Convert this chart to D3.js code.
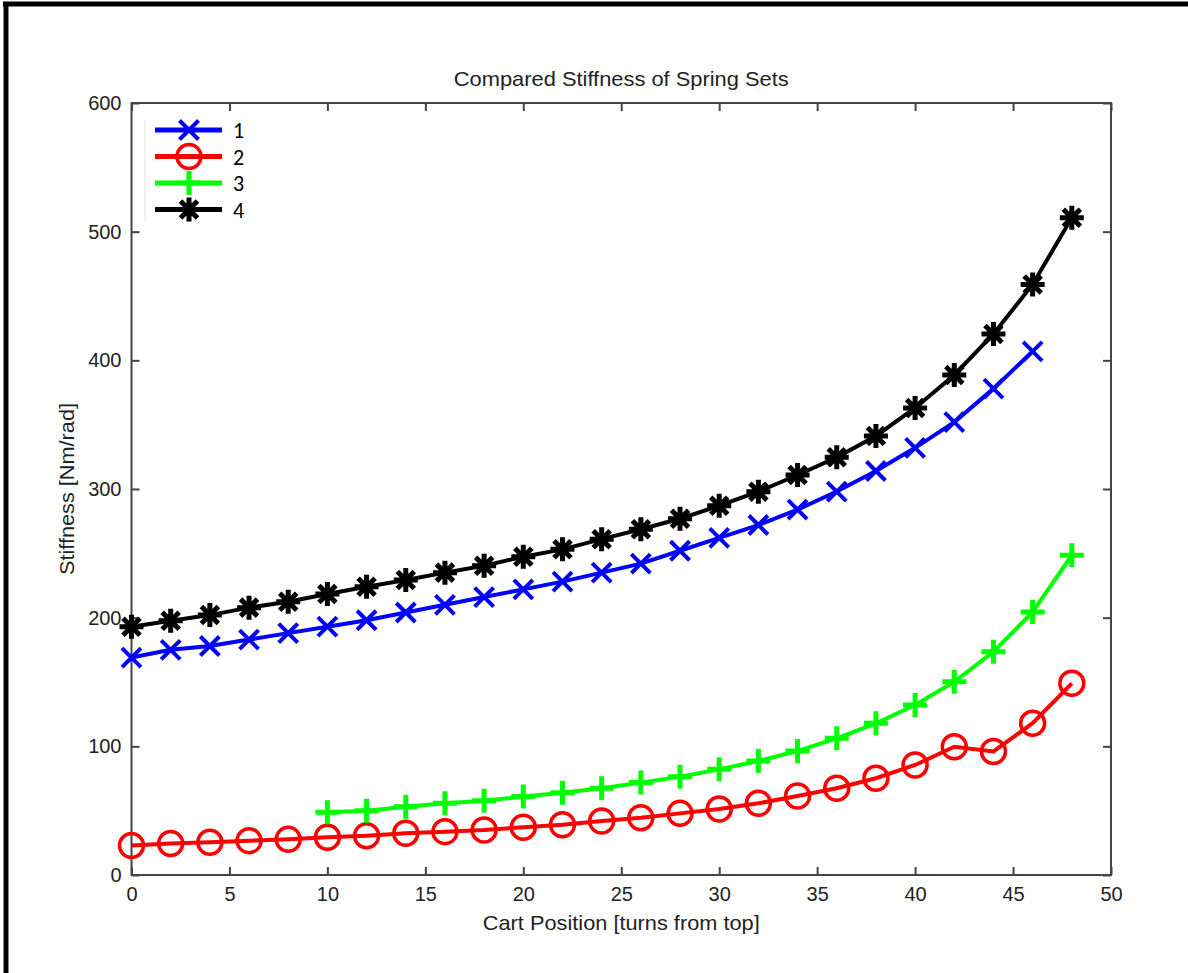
<!DOCTYPE html>
<html>
<head>
<meta charset="utf-8">
<script src="https://cdn.jsdelivr.net/npm/d3@7"></script>
<style>
  body { margin: 0; background: #fff; }
  svg text { font-family: "Liberation Sans", Arial, sans-serif; fill: #222; }
  .leg text { font-family: Carlito, Calibri, "Open Sans", sans-serif; fill: #000; }
</style>
</head>
<body>
<div id="chart"></div>
<script>
// spring set stiffness vs cart position
var xs1 = [0,2,4,6,8,10,12,14,16,18,20,22,24,26,28,30,32,34,36,38,40,42,44,46];
var set1 = [169,175,178,183,188,193,198,204,210,216,222,228,235,242,252,262,272,284,298,314,332,352,378,407];

var xs2 = [0,2,4,6,8,10,12,14,16,18,20,22,24,26,28,30,32,34,36,38,40,42,44,46,48];
var set2 = [23,24.5,25.5,26.7,27.7,29.3,30.5,32.4,33.7,35,37.1,39,42,44.5,47.9,51.3,55.7,61.4,67.4,75.2,85.5,99.7,96,118,149];

var xs3 = [10,12,14,16,18,20,22,24,26,28,30,32,34,36,38,40,42,44,46,48];
var set3 = [48.7,50,53,55.7,57.7,61,64,67.4,71.8,76.4,82.1,88.6,96.4,106.2,117.9,132.1,150.2,173.5,204.5,248.5];

var xs4 = [0,2,4,6,8,10,12,14,16,18,20,22,24,26,28,30,32,34,36,38,40,42,44,46,48];
var set4 = [193,197.6,202,207.8,212.4,218.4,224,229.3,235,240.4,247.4,253.1,261,268.7,276.9,287,297.9,310.9,324.6,341.2,363,388.6,420.5,459,510.8];

var seriesNames = ["1", "2", "3", "4"];
var seriesColors = ["#0000ff", "#ff0000", "#00ff00", "#000000"];
var seriesMarkers = ["x", "o", "+", "*"];
var xTicks = [0,5,10,15,20,25,30,35,40,45,50];
var yTicks = [0,100,200,300,400,500,600];

var W = 1188, H = 973;
var padL = 131.5, padR = 1111, padT = 103, padB = 875;

var svg = d3.select("#chart").append("svg")
    .attr("width", W)
    .attr("height", H);

// outer frame of the picture
svg.append("line").attr("x1", 3).attr("x2", W).attr("y1", 4).attr("y2", 4)
    .attr("stroke", "#000").attr("stroke-width", 5);
svg.append("line").attr("x1", 6).attr("x2", 6).attr("y1", 2).attr("y2", H)
    .attr("stroke", "#000").attr("stroke-width", 5);

var x = d3.scaleLinear().domain([0, 50]).range([padL, padR]);
var y = d3.scaleLinear().domain([0, 600]).range([padB, padT]);

// axes box
svg.append("rect")
    .attr("x", padL).attr("y", padT)
    .attr("width", padR - padL).attr("height", padB - padT)
    .attr("fill", "none").attr("stroke", "#444").attr("stroke-width", 2);

var axisFont = 20;
var bx = svg.append("g").attr("transform", "translate(0," + padB + ")")
    .call(d3.axisBottom(x).tickValues(xTicks).tickSize(-8).tickPadding(12));
var tx = svg.append("g").attr("transform", "translate(0," + padT + ")")
    .call(d3.axisTop(x).tickValues(xTicks).tickSize(-8).tickFormat(""));
var ly = svg.append("g").attr("transform", "translate(" + padL + ",0)")
    .call(d3.axisLeft(y).tickValues(yTicks).tickSize(-8).tickPadding(10));
var ry = svg.append("g").attr("transform", "translate(" + padR + ",0)")
    .call(d3.axisRight(y).tickValues(yTicks).tickSize(-8).tickFormat(""));

[bx, tx, ly, ry].forEach(function (g) {
    g.select(".domain").remove();
    g.selectAll(".tick line").attr("stroke", "#444").attr("stroke-width", 2);
    g.selectAll(".tick text").attr("font-size", axisFont)
        .attr("font-family", "'Liberation Sans', Arial, sans-serif")
        .attr("fill", "#222");
});

// title and axis labels
svg.append("text").attr("x", (padL + padR) / 2).attr("y", 86)
    .attr("text-anchor", "middle").attr("font-size", 21)
    .attr("textLength", 335).attr("lengthAdjust", "spacingAndGlyphs")
    .text("Compared Stiffness of Spring Sets");
svg.append("text").attr("x", (padL + padR) / 2).attr("y", 930)
    .attr("text-anchor", "middle").attr("font-size", 21)
    .attr("textLength", 277).attr("lengthAdjust", "spacingAndGlyphs")
    .text("Cart Position [turns from top]");
svg.append("text")
    .attr("transform", "translate(74," + ((padT + padB) / 2) + ") rotate(-90)")
    .attr("text-anchor", "middle").attr("font-size", 21)
    .attr("textLength", 172).attr("lengthAdjust", "spacingAndGlyphs")
    .text("Stiffness [Nm/rad]");

function drawMarker(g, type, color) {
    if (type === "o") {
        g.append("circle").attr("r", 12).attr("fill", "none")
            .attr("stroke", color).attr("stroke-width", 3.5);
    } else if (type === "x") {
        g.append("path").attr("d", "M-9.5,-9.5L9.5,9.5M-9.5,9.5L9.5,-9.5")
            .attr("stroke", color).attr("stroke-width", 4);
    } else if (type === "+") {
        g.append("path").attr("d", "M-12,0L12,0M0,-12L0,12")
            .attr("stroke", color).attr("stroke-width", 5);
    } else {
        g.append("path").attr("d", "M-12,0L12,0M0,-12L0,12M-8.5,-8.5L8.5,8.5M-8.5,8.5L8.5,-8.5")
            .attr("stroke", color).attr("stroke-width", 5);
    }
}

var allX = [xs1, xs2, xs3, xs4];
var allY = [set1, set2, set3, set4];

var line = d3.line()
    .x(function (d) { return x(d[0]); })
    .y(function (d) { return y(d[1]); });

// draw in plotting order 1..4
allX.forEach(function (xsArr, i) {
    var pts = xsArr.map(function (v, j) { return [v, allY[i][j]]; });
    var g = svg.append("g");
    g.append("path").datum(pts)
        .attr("d", line)
        .attr("fill", "none")
        .attr("stroke", seriesColors[i])
        .attr("stroke-width", 4);
    g.selectAll("g.m")
        .data(pts)
        .enter()
        .append("g")
        .attr("class", "m")
        .attr("transform", function (d) {
            return "translate(" + x(d[0]) + "," + y(d[1]) + ")";
        })
        .each(function () {
            drawMarker(d3.select(this), seriesMarkers[i], seriesColors[i]);
        });
});

// legend
var leg = svg.append("g").attr("class", "leg");
leg.append("line").attr("x1", 145).attr("x2", 145).attr("y1", 120).attr("y2", 222)
    .attr("stroke", "#e4e4e4").attr("stroke-width", 1);
seriesNames.forEach(function (name, i) {
    var ly0 = 130 + i * 26.5;
    var row = leg.append("g");
    row.append("line").attr("x1", 155).attr("x2", 222).attr("y1", ly0).attr("y2", ly0)
        .attr("stroke", seriesColors[i]).attr("stroke-width", 5);
    var m = row.append("g").attr("transform", "translate(189," + ly0 + ")");
    drawMarker(m, seriesMarkers[i], seriesColors[i]);
    row.append("text").attr("x", 233).attr("y", ly0 + 8)
        .attr("font-size", 22).text(name);
});
</script>
</body>
</html>
